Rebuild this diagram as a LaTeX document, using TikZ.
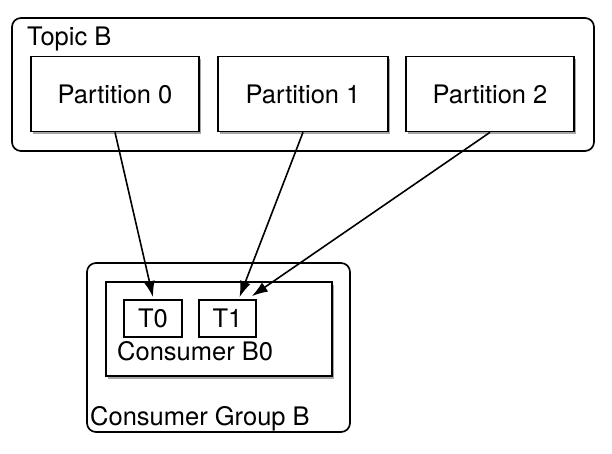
\documentclass[tikz,border=0pt]{standalone}
\usepackage{fontspec}
\setmainfont{TeX Gyre Heros}
\usetikzlibrary{shadows,arrows.meta,calc}
\begin{document}
\begin{tikzpicture}[x=1pt,y=-1pt,
  font=\fontsize{25.5}{30}\selectfont,
  group/.style={draw=black,line width=1.7pt,rounded corners=9pt,inner sep=0pt},
  part/.style={draw=black,line width=1.7pt,fill=white,inner sep=0pt,
    drop shadow={shadow xshift=1.5pt,shadow yshift=-2.5pt,opacity=0.35,fill=black}},
  tbox/.style={draw=black,line width=1.7pt,fill=white,inner sep=0pt},
  lbl/.style={anchor=base west,inner sep=0pt},
  conn/.style={line width=1.6pt,-{Latex[length=16pt,width=11pt]}}]
\useasboundingbox (0,0) rectangle (612,454);
% Topic B
\node[group,minimum width=582pt,minimum height=133pt] (topic) at (303,84.5) {};
\node[lbl] (topiclbl) at (27,46) {Topic B};
\node[part,minimum width=168pt,minimum height=75pt] (p0) at (115,94) {Partition 0};
\node[part,minimum width=170pt,minimum height=75pt] (p1) at (303,94) {Partition 1};
\node[part,minimum width=168pt,minimum height=75pt] (p2) at (490,94) {Partition 2};
% Consumer group
\node[group,minimum width=263pt,minimum height=169pt] (cg) at (218.5,347.5) {};
\node[lbl] (cglbl) at (90,425) {Consumer Group B};
\node[part,minimum width=226pt,minimum height=94pt] (b0) at (219,329) {};
\node[lbl] (b0lbl) at (117,360) {Consumer B0};
\node[tbox,minimum width=58pt,minimum height=37pt] (t0) at (153,318.5) {T0};
\node[tbox,minimum width=57pt,minimum height=37pt] (t1) at (227.5,318.5) {T1};
% connectors
\draw[conn] (p0.south) -- ($(t0.north)+(0,-2)$);
\draw[conn] (p1.south) -- ($(t1.north)+(12,-2)$);
\draw[conn] (p2.south) -- ($(t1.north east)+(-5,-3)$);
\end{tikzpicture}
\end{document}
